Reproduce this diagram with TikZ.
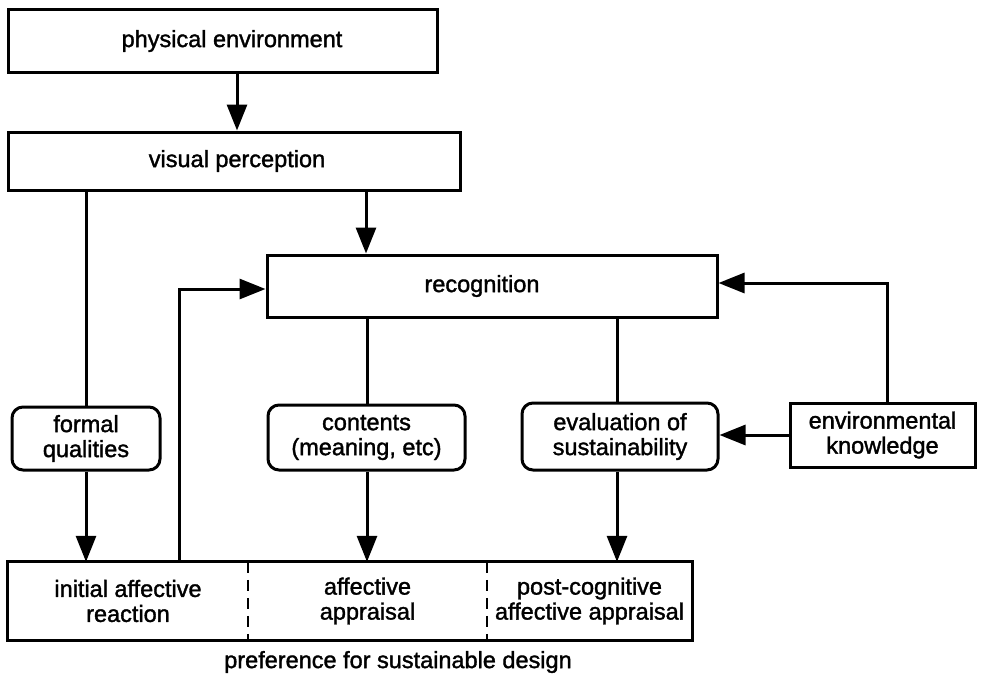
\documentclass[tikz,border=0pt]{standalone}
\usepackage{fontspec}
\setmainfont{Liberation Sans}
\newfontfamily\labelfont{Liberation Sans}[FakeBold=1.5]
\usetikzlibrary{arrows.meta}
\begin{document}
\begin{tikzpicture}[x=1pt,y=-1pt,
  every node/.style={font=\labelfont\fontsize{23.5}{25}\selectfont, align=center, inner sep=0pt},
  sqbox/.style={draw, line width=3pt, rectangle},
  rbox/.style={draw, line width=3pt, rectangle, rounded corners=11pt},
  link/.style={line width=3pt},
  arr/.style={line width=3pt, -{Triangle[length=26pt,width=20pt]}},
  divider/.style={line width=2pt, dash pattern=on 11pt off 7pt}
]
\useasboundingbox (0,0) rectangle (984,677);

% top chain: boxes, with their labels set slightly off-centre
\node[sqbox, minimum width=429pt, minimum height=62pt] (phys) at (222.5,41) {};
\node (phystext) at (232,41) {physical environment};
\node[sqbox, minimum width=452pt, minimum height=58pt] (vis) at (234,161) {};
\node (vistext) at (237,161) {visual perception};
\node[sqbox, minimum width=450pt, minimum height=62pt] (rec) at (492,286) {};
\node (rectext) at (482,286) {recognition};

% middle row
\node[rbox, minimum width=148pt, minimum height=63pt] (formal) at (86,438.5) {formal\\qualities};
\node[rbox, minimum width=197pt, minimum height=65pt] (cont) at (366.5,437.5) {contents\\(meaning, etc)};
\node[rbox, minimum width=196pt, minimum height=67pt] (eval) at (620,436.5) {evaluation of\\sustainability};
\node[sqbox, minimum width=185pt, minimum height=64pt] (envk) at (882.5,435) {environmental\\knowledge};

% bottom compartments
\node[minimum width=240pt, minimum height=78pt] (pa) at (128,601) {initial affective\\reaction};
\node[minimum width=239pt, minimum height=78pt] (pb) at (367.5,601) {affective\\appraisal};
\node[minimum width=205pt, minimum height=78pt] (pc) at (589.5,601) {post-cognitive\\affective appraisal};
\draw[line width=3pt] (pa.north west) rectangle (pc.south east);
\draw[divider] (pa.north east) -- (pa.south east);
\draw[divider] (pb.north east) -- (pb.south east);
\node (caption) at (398,662) {preference for sustainable design};

% connectors
\draw[arr] (phys.south -| 237,0) -- (vis.north -| 237,0);
\draw[arr] (vis.south -| 366,0) -- (rec.north -| 366,0);
\draw[link] (vis.south -| formal.north) -- (formal.north);
\draw[arr] (formal.south) -- (pa.north -| formal.south);
\draw[link] (rec.south -| 367,0) -- (cont.north -| 367,0);
\draw[arr] (cont.south -| 367,0) -- (pb.north -| 367,0);
\draw[link] (rec.south -| 617,0) -- (eval.north -| 617,0);
\draw[arr] (eval.south -| 617,0) -- (pc.north -| 617,0);
\draw[arr] (envk.north -| 887,0) |- (rec.east |- 0,283);
\draw[arr] (envk.west) -- (eval.east |- envk.west);
\draw[arr] (pa.north -| 179,0) |- (rec.west |- 0,289);
\end{tikzpicture}
\end{document}
